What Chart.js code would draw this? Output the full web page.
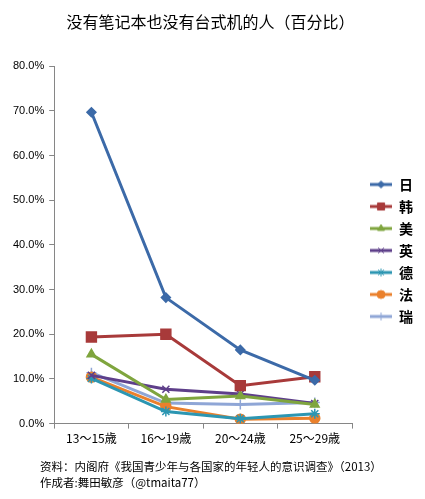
<!DOCTYPE html>
<html>
<head>
<meta charset="utf-8">
<script src="https://cdn.jsdelivr.net/npm/chart.js@4"></script>
<style>
  body { margin: 0; background: #fff; }
  #wrap { position: relative; width: 425px; height: 499px; }
  #note {
    position: absolute; left: 40px; top: 458px;
    font: 11.5px/16px "Noto Sans CJK SC", sans-serif; color: #000;
  }
</style>
</head>
<body>
<div id="wrap">
  <canvas id="lineChart" width="425" height="499"></canvas>
  <div id="note">资料：内阁府《我国青少年与各国家的年轻人的意识调查》（2013）<br>作成者:舞田敏彦（@tmaita77）</div>
</div>
<script>
const categories = ['13〜15歳', '16〜19歳', '20〜24歳', '25〜29歳'];
const japan   = [69.7, 28.2, 16.5, 9.7];
const korea   = [19.4, 20.0, 8.5, 10.5];
const usa     = [15.5, 5.4, 6.2, 4.3];
const uk      = [10.8, 7.7, 6.6, 4.5];
const germany = [10.1, 2.7, 1.1, 2.2];
const france  = [10.4, 3.8, 1.0, 1.2];
const sweden  = [11.4, 4.6, 4.3, 4.7];
const yTicks  = [0, 10, 20, 30, 40, 50, 60, 70, 80];

const cjk = '"Noto Sans CJK SC", sans-serif';

// legend icon: short line with the marker in the middle
function legendIcon(color, style, radius) {
    const c = document.createElement('canvas');
    c.width = 22; c.height = 12;
    const g = c.getContext('2d');
    g.strokeStyle = color; g.lineWidth = 3;
    g.beginPath(); g.moveTo(0, 6); g.lineTo(22, 6); g.stroke();
    g.fillStyle = color; g.lineWidth = 1;
    Chart.helpers.drawPoint(g, { pointStyle: style, radius: radius, rotation: 0, borderWidth: 1 }, 11, 6);
    return c;
}

function series(label, data, color, style, radius) {
    return {
        label: label,
        data: data,
        borderColor: color,
        backgroundColor: color,
        borderWidth: 3,
        pointStyle: style,
        pointRadius: radius,
        pointBorderWidth: 1.5,
        tension: 0,
        icon: legendIcon(color, style, Math.min(radius - 1, 5))
    };
}

// move the legend a bit right and down, like the original
const legendShift = {
    id: 'legendShift',
    afterLayout(chart) {
        const lg = chart.legend;
        lg.left += 10; lg.right += 10;
        lg.top += 26; lg.bottom += 26;
    }
};

const ctx = document.getElementById('lineChart').getContext('2d');
const lineChart = new Chart(ctx, {
    type: 'line',
    data: {
        labels: categories,
        datasets: [
            series('日', japan,   '#3C6AA8', 'rectRot', 4.5),
            series('韩', korea,   '#A83A3A', 'rect', 7),
            series('美', usa,     '#7FA53E', 'triangle', 5),
            series('英', uk,      '#5E3F8A', 'crossRot', 5),
            series('德', germany, '#2C96B2', 'star', 5),
            series('法', france,  '#EA802C', 'circle', 5),
            series('瑞', sweden,  '#8FA6D6', 'cross', 5)
        ]
    },
    options: {
        responsive: false,
        animation: false,
        layout: { padding: { left: 8, right: 12, bottom: 50, top: 0 } },
        scales: {
            x: {
                offset: true,
                grid: { display: true, drawOnChartArea: false, offset: true, tickLength: 5, color: '#868686' },
                border: { color: '#868686' },
                ticks: { color: '#000', font: { family: '"Noto Sans CJK JP", sans-serif', size: 12 }, padding: 3 }
            },
            y: {
                min: 0,
                max: 80,
                afterBuildTicks: axis => { axis.ticks = yTicks.map(v => ({ value: v })); },
                grid: { display: true, drawOnChartArea: false, tickLength: 5, color: '#868686' },
                border: { color: '#868686' },
                ticks: {
                    color: '#000',
                    font: { family: '"Liberation Sans", sans-serif', size: 11 },
                    padding: 5,
                    callback: value => value.toFixed(1) + '%'
                }
            }
        },
        plugins: {
            title: {
                display: true,
                text: '没有笔记本也没有台式机的人（百分比）',
                color: '#000',
                font: { family: cjk, size: 16, weight: 'normal' },
                padding: { top: 12, bottom: 35 }
            },
            legend: {
                position: 'right',
                align: 'center',
                labels: {
                    usePointStyle: true,
                    pointStyleWidth: 22,
                    padding: 8,
                    color: '#000',
                    font: { family: cjk, size: 14, weight: 'bold' },
                    generateLabels: chart => chart.data.datasets.map((ds, i) => ({
                        text: ds.label,
                        pointStyle: ds.icon,
                        fillStyle: ds.borderColor,
                        strokeStyle: ds.borderColor,
                        fontColor: '#000',
                        lineWidth: 0,
                        hidden: false,
                        datasetIndex: i
                    }))
                }
            },
            tooltip: { enabled: false }
        }
    },
    plugins: [legendShift]
});
</script>
</body>
</html>
